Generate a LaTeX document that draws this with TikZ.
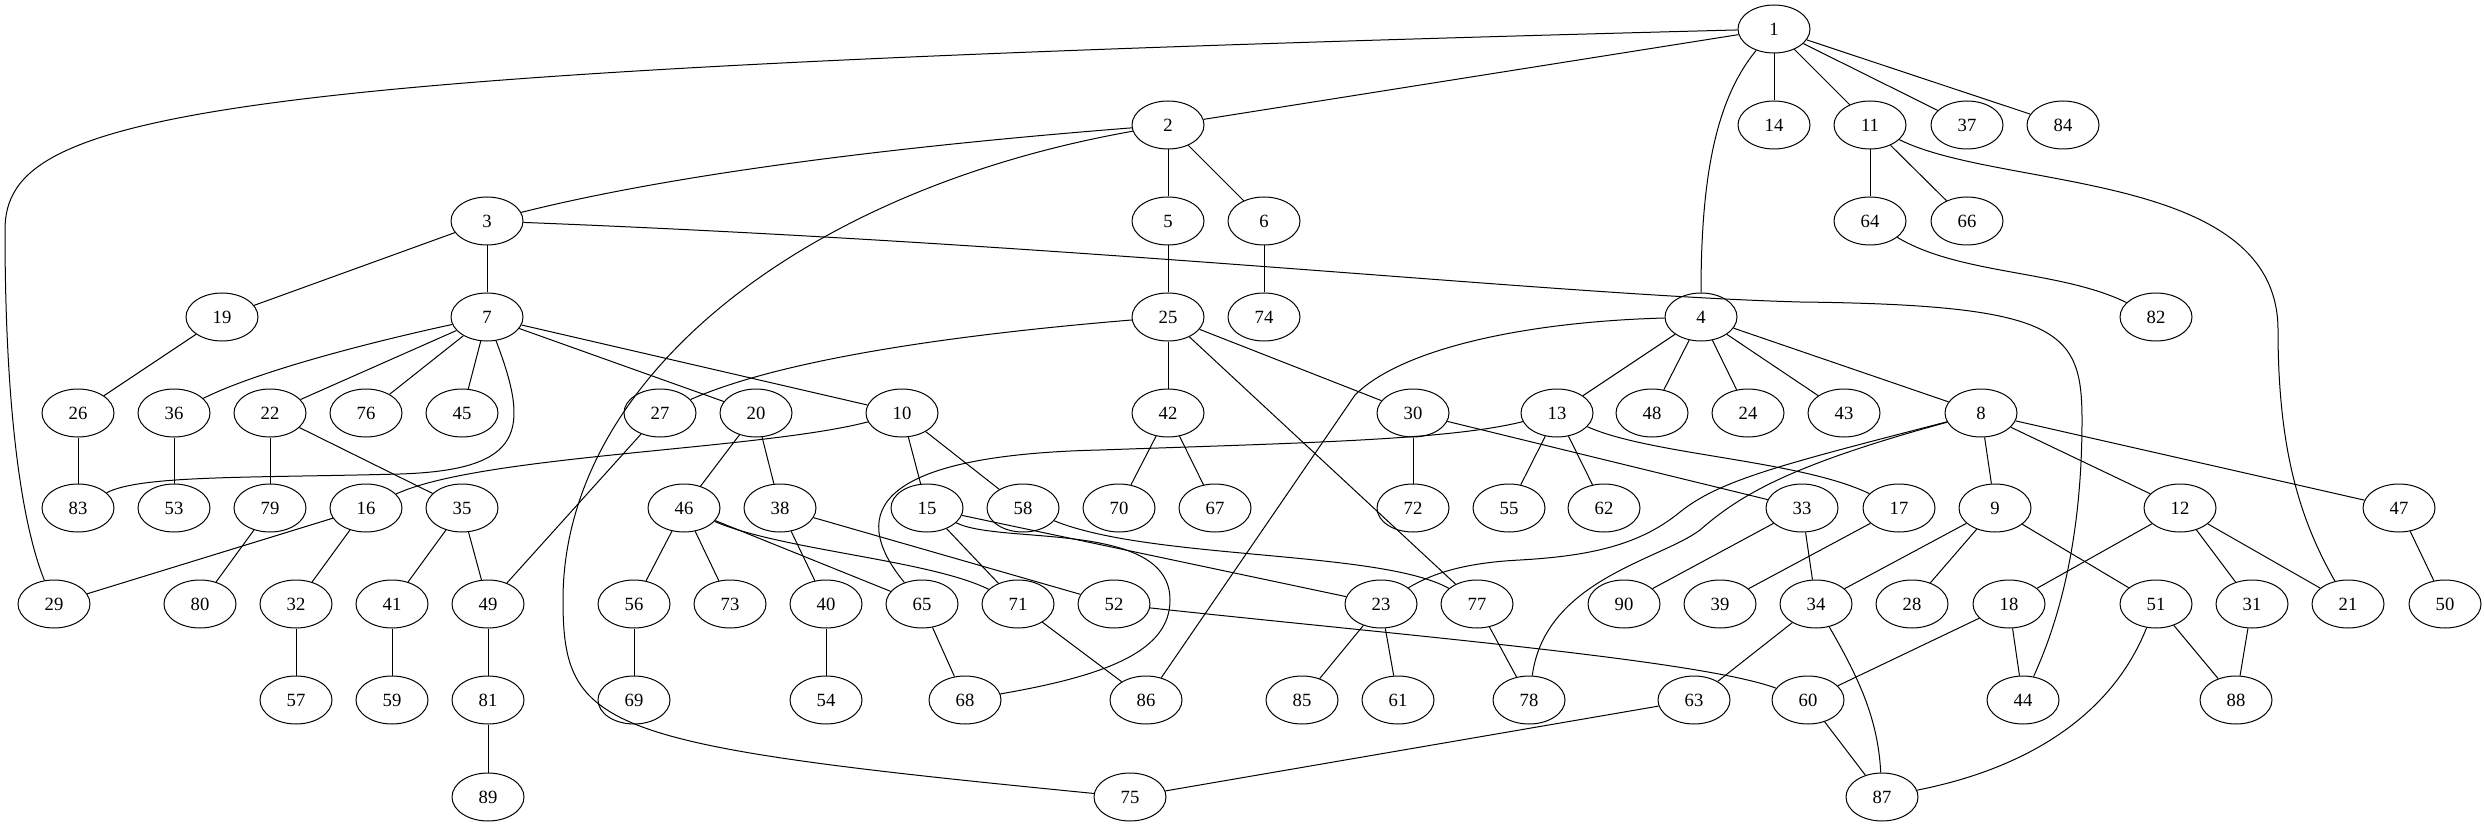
\documentclass[tikz,border=0pt]{standalone}
\usepackage{fontspec}
\setmainfont{Liberation Serif}
\usetikzlibrary{shapes.geometric}

\begin{document}
\begin{tikzpicture}[x=0.75pt, y=-0.75pt, line width=0.75pt,
        vert/.style={draw, ellipse, minimum width=54pt, minimum height=36pt, inner sep=0pt, font=\fontsize{14}{16}\selectfont}]
        \useasboundingbox (0,0) rectangle (2484,827);
        \foreach \n/\x/\y in {1/1774/29, 2/1168/125, 14/1774/125, 11/1870/125, 37/1967/125, 84/2063/125,
                3/487/221, 5/1168/221, 6/1264/221, 64/1870/221, 66/1967/221,
                19/222/317, 7/487/317, 25/1168/317, 74/1264/317, 4/1701/317, 82/2156/317,
                26/78/413, 36/174/413, 22/270/413, 76/366/413, 45/462/413, 27/660/413, 20/756/413, 10/902/413,
                42/1168/413, 30/1413/413, 13/1557/413, 48/1652/413, 24/1748/413, 43/1844/413, 8/1981/413,
                83/78/508, 53/174/508, 79/270/508, 16/366/508, 35/462/508, 46/684/508, 38/780/508, 15/927/508,
                58/1023/508, 70/1119/508, 67/1215/508, 72/1413/508, 55/1509/508, 62/1604/508, 33/1802/508,
                17/1899/508, 9/1995/508, 12/2180/508, 47/2399/508,
                29/54/604, 80/200/604, 32/296/604, 41/392/604, 49/488/604, 56/634/604, 73/730/604, 40/826/604,
                65/922/604, 71/1018/604, 52/1114/604, 23/1381/604, 77/1477/604, 90/1624/604, 39/1720/604,
                34/1816/604, 28/1912/604, 18/2009/604, 51/2156/604, 31/2252/604, 21/2348/604, 50/2445/604,
                57/296/700, 59/392/700, 81/488/700, 69/634/700, 54/826/700, 68/965/700, 86/1146/700, 85/1302/700,
                61/1398/700, 78/1529/700, 63/1694/700, 60/1808/700, 44/2023/700, 88/2236/700,
                89/488/797, 75/1130/797, 87/1882/797}
                \node[vert] (n\n) at (\x,\y) {\n};
        \foreach \a/\b in {1/14, 1/11, 1/37, 1/84, 1/2, 2/5, 2/6, 3/19, 3/7, 5/25, 6/74, 11/64, 11/66, 19/26, 26/83,
                7/22, 7/76, 7/45, 7/20, 7/10, 36/53, 22/79, 22/35, 79/80, 16/29, 16/32, 35/41, 35/49, 32/57, 41/59,
                49/81, 81/89, 27/49, 10/15, 10/58, 20/46, 20/38, 25/42, 25/30, 25/77, 42/70, 42/67, 46/56, 46/73,
                46/65, 38/40, 38/52, 15/71, 15/23, 56/69, 40/54, 65/68, 71/86, 4/13, 4/48, 4/24, 4/43, 4/8, 30/72,
                30/33, 13/55, 13/62, 8/9, 8/12, 8/47, 33/90, 33/34, 17/39, 9/34, 9/28, 9/51, 12/18, 12/31, 12/21,
                47/50, 23/85, 23/61, 77/78, 34/63, 18/60, 18/44, 51/88, 31/88, 63/75, 60/87}
                \draw (n\a) -- (n\b);
        \draw (n1) .. controls (200,70) and (5,110) .. (5,230) .. controls (5,400) and (20,520) .. (n29);
        \draw (n1) .. controls (1715,100) and (1701,180) .. (n4);
        \draw (n2) .. controls (850,150) and (650,180) .. (n3);
        \draw (n2) .. controls (800,190) and (563,380) .. (563,600) .. controls (563,730) and (600,745) .. (n75);
        \draw (n3) .. controls (1100,245) and (1550,295) .. (1800,302) .. controls (2060,305) and (2082,330) .. (2082,420) .. controls (2082,560) and (2050,640) .. (n44);
        \draw (n11) .. controls (2000,190) and (2278,170) .. (2278,330) .. controls (2278,450) and (2300,520) .. (n21);
        \draw (n64) .. controls (1960,275) and (2060,270) .. (n82);
        \draw (n7) .. controls (530,430) and (525,470) .. (400,474) .. controls (250,478) and (140,475) .. (n83);
        \draw (n7) .. controls (380,340) and (260,370) .. (n36);
        \draw (n25) .. controls (950,335) and (780,360) .. (n27);
        \draw (n10) .. controls (760,450) and (480,455) .. (n16);
        \draw (n13) .. controls (1450,440) and (1300,443) .. (1100,450) .. controls (880,455) and (845,510) .. (n65);
        \draw (n13) .. controls (1650,455) and (1800,460) .. (n17);
        \draw (n4) .. controls (1520,322) and (1400,350) .. (1355,395) -- (n86);
        \draw (n8) .. controls (1780,465) and (1720,480) .. (1680,512) .. controls (1640,545) and (1590,556) .. (1520,560) .. controls (1460,563) and (1430,575) .. (n23);
        \draw (n8) .. controls (1790,465) and (1740,495) .. (1700,530) .. controls (1660,560) and (1545,580) .. (n78);
        \draw (n15) .. controls (1000,545) and (1170,520) .. (1170,600) .. controls (1170,650) and (1110,675) .. (n68);
        \draw (n58) .. controls (1150,560) and (1380,550) .. (n77);
        \draw (n46) .. controls (780,550) and (930,560) .. (n71);
        \draw (n52) .. controls (1400,635) and (1700,660) .. (n60);
        \draw (n51) .. controls (2110,720) and (2020,770) .. (n87);
        \draw (n34) .. controls (1860,680) and (1878,720) .. (n87);
\end{tikzpicture}
\end{document}
